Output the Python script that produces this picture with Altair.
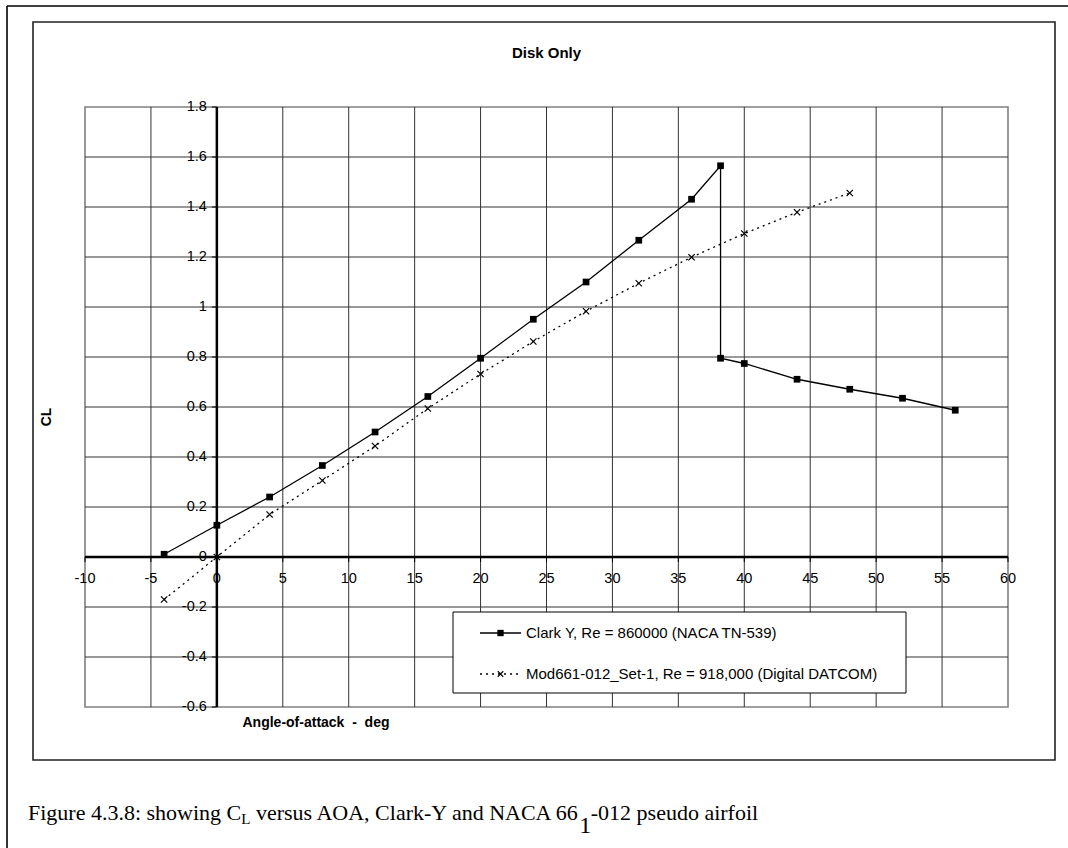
import altair as alt
import pandas as pd

# Clark Y wind-tunnel data (NACA TN-539), Re = 860,000; the repeated 38.2 deg entry is the stall drop
clark_aoa = [-4, 0, 4, 8, 12, 16, 20, 24, 28, 32, 36, 38.2, 38.2, 40, 44, 48, 52, 56]
clark_cl = [0.011, 0.127, 0.240, 0.366, 0.500, 0.642, 0.795, 0.951, 1.100, 1.267,
            1.431, 1.565, 0.795, 0.774, 0.711, 0.671, 0.635, 0.587]

# Digital DATCOM prediction for the Mod661-012 section, Re = 918,000
datcom_aoa = [-4, 0, 4, 8, 12, 16, 20, 24, 28, 32, 36, 40, 44, 48]
datcom_cl = [-0.170, 0.000, 0.170, 0.306, 0.444, 0.594, 0.732, 0.862, 0.983, 1.095,
             1.199, 1.294, 1.379, 1.456]

x_ticks = [-10, -5, 0, 5, 10, 15, 20, 25, 30, 35, 40, 45, 50, 55, 60]
y_ticks = [-0.6, -0.4, -0.2, 0, 0.2, 0.4, 0.6, 0.8, 1, 1.2, 1.4, 1.6, 1.8]

series_names = [
    "Clark Y, Re = 860000 (NACA TN-539)",
    "Mod661-012_Set-1, Re = 918,000 (Digital DATCOM)",
]
chart_title = "Disk Only"
x_title = "Angle-of-attack\u00a0\u00a0-\u00a0\u00a0deg"
y_title = "CL"

# caption pieces: (text, font size, baseline shift, advance factor for kerning)
caption_parts = [
    ("Figure 4.3.8: showing C", 22, 0, 1.0),
    ("L", 15, 4, 1.0),
    (" versus AOA, Clark-Y and NACA 66", 22, 0, 0.995),
    ("1", 24, 13, 0.95),
    ("-012 pseudo airfoil", 22, 0, 1.0),
]

SANS = "Liberation Sans"
SERIF = "Liberation Serif"

# plot area geometry (pixels)
W, H = 923, 600
PAD_L, PAD_T = 85, 107
TOTAL_W, TOTAL_H = 1068, 848

x_dom = [x_ticks[0], x_ticks[-1]]
y_dom = [y_ticks[0], y_ticks[-1]]
xs = alt.Scale(domain=x_dom, nice=False, zero=False)
ys = alt.Scale(domain=y_dom, nice=False, zero=False)

# pixel position of the zero lines, where the axes cross
x0_px = W * (0 - x_dom[0]) / (x_dom[1] - x_dom[0])
y0_px = H * (y_dom[1] - 0) / (y_dom[1] - y_dom[0])

one = pd.DataFrame({"k": [0]})
zero = pd.DataFrame({"v": [0]})

clark = pd.DataFrame({"aoa": clark_aoa, "cl": clark_cl, "seq": list(range(len(clark_aoa)))})
datcom = pd.DataFrame({"aoa": datcom_aoa, "cl": datcom_cl})

xtick_df = pd.DataFrame({"v": x_ticks, "lab": [f"{v:g}" for v in x_ticks]})
ytick_df = pd.DataFrame({"v": y_ticks, "lab": [f"{v:g}" for v in y_ticks]})

# interior gridlines (edges are the plot border, zero lines are the axes)
vgrid_vals = [v for v in x_ticks[1:-1] if v != 0]
hgrid_vals = [v for v in y_ticks[1:-1] if v != 0]

GRID = "#333333"

vgrid = alt.Chart(pd.DataFrame({"v": vgrid_vals})).mark_rule(
    color=GRID, strokeWidth=1
).encode(x=alt.X("v:Q", scale=xs, axis=None))

hgrid = alt.Chart(pd.DataFrame({"v": hgrid_vals})).mark_rule(
    color=GRID, strokeWidth=1
).encode(y=alt.Y("v:Q", scale=ys, axis=None))

# axes crossing at the origin: thick lines, outward ticks, labels
x_axis_line = alt.Chart(zero).mark_rule(color="black", strokeWidth=2.5).encode(
    y=alt.Y("v:Q", scale=ys, axis=None)
)
y_axis_line = alt.Chart(zero).mark_rule(color="black", strokeWidth=2.5).encode(
    x=alt.X("v:Q", scale=xs, axis=None)
)
x_tick_marks = alt.Chart(xtick_df).mark_rule(color="black", strokeWidth=1).encode(
    x=alt.X("v:Q", scale=xs, axis=None),
    y=alt.value(y0_px),
    y2=alt.value(y0_px + 5),
)
y_tick_marks = alt.Chart(ytick_df).mark_rule(color="black", strokeWidth=1).encode(
    y=alt.Y("v:Q", scale=ys, axis=None),
    x=alt.value(x0_px - 5),
    x2=alt.value(x0_px),
)
x_tick_labels = alt.Chart(xtick_df).mark_text(
    font=SANS, fontSize=14.5, color="black", align="center", baseline="middle"
).encode(
    x=alt.X("v:Q", scale=xs, axis=None),
    y=alt.value(y0_px + 22),
    text="lab:N",
)
y_tick_labels = alt.Chart(ytick_df).mark_text(
    font=SANS, fontSize=14.5, color="black", align="right", baseline="middle"
).encode(
    y=alt.Y("v:Q", scale=ys, axis=None),
    x=alt.value(x0_px - 10),
    text="lab:N",
)

clark_line = alt.Chart(clark).mark_line(color="black", strokeWidth=1.3).encode(
    x=alt.X("aoa:Q", scale=xs, axis=None),
    y=alt.Y("cl:Q", scale=ys, axis=None),
    order="seq:Q",
)

clark_pts = alt.Chart(clark).mark_point(
    shape="square", filled=True, size=45, color="black", opacity=1
).encode(
    x=alt.X("aoa:Q", scale=xs, axis=None),
    y=alt.Y("cl:Q", scale=ys, axis=None),
)

X_SHAPE = "M-1,-1L1,1M-1,1L1,-1"

datcom_line = alt.Chart(datcom).mark_line(
    color="black", strokeWidth=1.3, strokeDash=[2, 4]
).encode(
    x=alt.X("aoa:Q", scale=xs, axis=None),
    y=alt.Y("cl:Q", scale=ys, axis=None),
)

datcom_pts = alt.Chart(datcom).mark_point(
    shape=X_SHAPE, filled=False, size=40, color="black", strokeWidth=1.2, opacity=1
).encode(
    x=alt.X("aoa:Q", scale=xs, axis=None),
    y=alt.Y("cl:Q", scale=ys, axis=None),
)

# legend box, drawn in pixel space over the plot
LG_X1, LG_X2, LG_Y1, LG_Y2 = 368, 821, 505, 586
ROW_Y = [526, 567]
SYM_X1, SYM_X2, SYM_MID, TXT_X = 395, 436, 415.5, 441

legend_layers = [
    alt.Chart(one).mark_rect(fill="white", stroke="black", strokeWidth=1).encode(
        x=alt.value(LG_X1), x2=alt.value(LG_X2), y=alt.value(LG_Y1), y2=alt.value(LG_Y2)
    ),
    alt.Chart(one).mark_rule(color="black", strokeWidth=1.3).encode(
        x=alt.value(SYM_X1), x2=alt.value(SYM_X2), y=alt.value(ROW_Y[0])
    ),
    alt.Chart(one).mark_point(shape="square", filled=True, size=40, color="black", opacity=1).encode(
        x=alt.value(SYM_MID), y=alt.value(ROW_Y[0])
    ),
    alt.Chart(one).mark_rule(color="black", strokeWidth=1.3, strokeDash=[2, 4]).encode(
        x=alt.value(SYM_X1), x2=alt.value(SYM_X2), y=alt.value(ROW_Y[1])
    ),
    alt.Chart(one).mark_point(shape=X_SHAPE, filled=False, size=30, color="black",
                              strokeWidth=1.1, opacity=1).encode(
        x=alt.value(SYM_MID), y=alt.value(ROW_Y[1])
    ),
]
for name, ry in zip(series_names, ROW_Y):
    legend_layers.append(
        alt.Chart(one).mark_text(
            text=name, font=SANS, fontSize=15, color="black", align="left", baseline="middle"
        ).encode(x=alt.value(TXT_X), y=alt.value(ry))
    )

# chart title and axis titles
title_layer = alt.Chart(one).mark_text(
    text=chart_title, font=SANS, fontSize=15, fontWeight="bold", color="black",
    align="center", baseline="middle"
).encode(x=alt.value(W / 2), y=alt.value(-54))

x_title_layer = alt.Chart(one).mark_text(
    text=x_title, font=SANS, fontSize=14, fontWeight="bold", color="black",
    align="center", baseline="middle"
).encode(x=alt.value(231), y=alt.value(616))

y_title_layer = alt.Chart(one).mark_text(
    text=y_title, font=SANS, fontSize=14, fontWeight="bold", color="black",
    align="center", baseline="middle", angle=270
).encode(x=alt.value(-38), y=alt.value(310))

# chart-area frame and the page border
frame_layers = [
    alt.Chart(one).mark_rect(fill="white", fillOpacity=0, stroke="#222", strokeWidth=1.6).encode(
        x=alt.value(33 - PAD_L), x2=alt.value(1055 - PAD_L),
        y=alt.value(22 - PAD_T), y2=alt.value(760 - PAD_T)
    ),
    alt.Chart(one).mark_rule(color="black", strokeWidth=1.6).encode(
        x=alt.value(7 - PAD_L), x2=alt.value(TOTAL_W - PAD_L), y=alt.value(6 - PAD_T)
    ),
    alt.Chart(one).mark_rule(color="black", strokeWidth=1.6).encode(
        x=alt.value(7 - PAD_L), y=alt.value(6 - PAD_T), y2=alt.value(TOTAL_H - PAD_T)
    ),
]

# caption with subscripts, laid out piece by piece using Times metrics
TIMES_W = {
    " ": 250, ".": 250, ":": 278, ",": 250, "-": 333,
    "0": 500, "1": 500, "2": 500, "3": 500, "4": 500, "5": 500,
    "6": 500, "7": 500, "8": 500, "9": 500,
    "A": 722, "C": 667, "F": 556, "L": 611, "N": 722, "O": 722, "Y": 722,
    "a": 444, "d": 500, "e": 444, "f": 333, "g": 500, "h": 500, "i": 278,
    "k": 500, "l": 278, "n": 500, "o": 500, "p": 500, "r": 333, "s": 389,
    "u": 500, "v": 500, "w": 722,
}


def serif_width(s, size):
    return sum(TIMES_W.get(ch, 500) for ch in s) * size / 1000.0


caption_layers = []
cx = 28 - PAD_L
base_y = 820 - PAD_T
for txt, size, dy, fit in caption_parts:
    stripped = txt.lstrip(" ")
    lead = serif_width(txt[: len(txt) - len(stripped)], size)
    caption_layers.append(
        alt.Chart(one).mark_text(
            text=stripped, font=SERIF, fontSize=size, color="black",
            align="left", baseline="alphabetic"
        ).encode(x=alt.value(cx + lead), y=alt.value(base_y + dy))
    )
    cx += serif_width(txt, size) * fit

chart = alt.layer(
    vgrid, hgrid,
    x_tick_labels, y_tick_labels,
    x_axis_line, y_axis_line, x_tick_marks, y_tick_marks,
    clark_line, datcom_line, clark_pts, datcom_pts,
    *legend_layers,
    title_layer, x_title_layer, y_title_layer,
    *frame_layers,
    *caption_layers,
).properties(
    width=W,
    height=H,
    autosize=alt.AutoSizeParams(type="none"),
    padding={"left": PAD_L, "top": PAD_T, "right": TOTAL_W - PAD_L - W, "bottom": TOTAL_H - PAD_T - H},
    background="white",
).configure_view(
    stroke="#808080", strokeWidth=1.6
)

chart.save("out.html", embed_options={"renderer": "svg", "actions": False})
